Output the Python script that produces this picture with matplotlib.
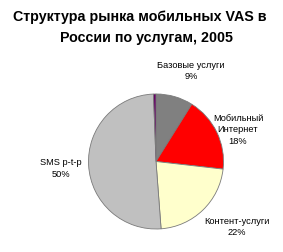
import matplotlib
matplotlib.use("Agg")
import matplotlib.pyplot as plt

categories = ["Базовые услуги", "Мобильный\nИнтернет", "Контент-услуги", "SMS p-t-p", "Прочее"]
shares = [8.9, 17.9, 22.0, 50.6, 0.6]
pct_labels = ["9%", "18%", "22%", "50%", None]
colors = ["#808080", "#FF0000", "#FFFFCC", "#C0C0C0", "#660066"]

plt.rcParams['font.family'] = ['Liberation Sans', 'DejaVu Sans']

W, H = 283, 252
fig = plt.figure(figsize=(W / 100, H / 100), dpi=100)

cx, cy, r = 156, 161.5, 67.5
ax = fig.add_axes([(cx - r) / W, 1 - (cy + r) / H, 2 * r / W, 2 * r / H])
wedges, _ = ax.pie(shares, colors=colors, startangle=90, counterclock=False,
                   wedgeprops=dict(edgecolor="#7a7a7a", linewidth=0.6))
ax.set_xlim(-1, 1)
ax.set_ylim(-1, 1)
ax.set_aspect('equal')

label_pos = [(191, 71), (238, 130), (237, 227), (61, 168.5)]
for name, pct, (x, y) in zip(categories, pct_labels, label_pos):
    if pct is None:
        continue
    fig.text(x / W, 1 - y / H, f"{name}\n{pct}", ha="center", va="center",
             fontsize=6.7, linespacing=1.3)

fig.text(139.5 / W, 1 - 17 / H, "Структура рынка мобильных VAS в", ha="center", va="center",
         fontsize=10.3, fontweight="bold")
fig.text(146 / W, 1 - 38 / H, "России по услугам, 2005", ha="center", va="center",
         fontsize=10.3, fontweight="bold")

fig.savefig("out.png", dpi=100)
